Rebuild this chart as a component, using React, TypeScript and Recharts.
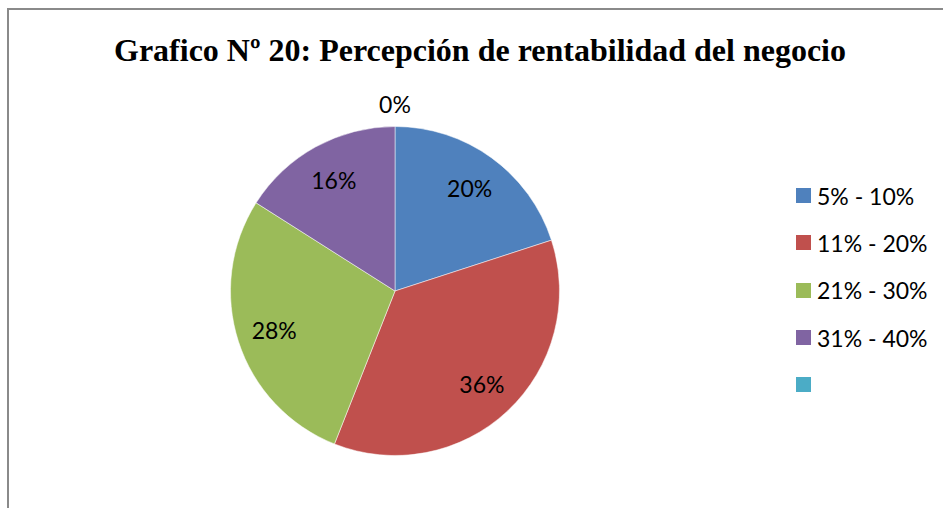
import React from "react";
import { PieChart, Pie, Cell, Legend } from "recharts";

const categories = ["5% - 10%", "11% - 20%", "21% - 30%", "31% - 40%", ""];
const values = [20, 36, 28, 16, 0];
const colors = ["#4F81BD", "#C0504D", "#9BBB59", "#8064A2", "#4BACC6"];

const data = categories.map((name, i) => ({ name, value: values[i] }));

const LABEL_FONT = "Lato, 'Open Sans', sans-serif";
const RAD = Math.PI / 180;

const renderLabel = (props: any) => {
  const { cx, cy, midAngle, value, percent } = props;
  const r = value > 0 ? 127 : 187;
  const x = cx + r * Math.cos(-midAngle * RAD);
  const y = cy + r * Math.sin(-midAngle * RAD);
  return (
    <text
      x={x}
      y={y}
      textAnchor="middle"
      dominantBaseline="central"
      fontFamily={LABEL_FONT}
      fontSize={23}
      fill="#000"
    >
      {`${Math.round((percent || 0) * 100)}%`}
    </text>
  );
};

const renderLegend = () => (
  <div style={{ fontFamily: LABEL_FONT, fontSize: 23 }}>
    {data.map((d, i) => (
      <div
        key={i}
        style={{ height: 47.3, display: "flex", alignItems: "center" }}
      >
        <span
          style={{
            width: 15,
            height: 15,
            background: colors[i],
            display: "inline-block",
            marginRight: 6,
          }}
        />
        <span style={{ color: "#000", whiteSpace: "nowrap" }}>{d.name}</span>
      </div>
    ))}
  </div>
);

export default function App() {
  return (
    <div
      style={{
        position: "absolute",
        left: 0,
        top: 0,
        width: 943,
        height: 508,
        overflow: "hidden",
        background: "#fff",
      }}
    >
      <div
        style={{
          position: "absolute",
          left: 7,
          top: 8,
          width: 1100,
          height: 800,
          border: "2px solid #8a8a8a",
          boxSizing: "border-box",
        }}
      />
      <div
        style={{
          position: "absolute",
          left: 0,
          top: 31.5,
          width: 960,
          textAlign: "center",
          fontFamily: "'Liberation Serif', 'Times New Roman', serif",
          fontWeight: "bold",
          fontSize: 32,
          color: "#000",
          whiteSpace: "nowrap",
        }}
      >
        Grafico Nº 20: Percepción de rentabilidad del negocio
      </div>
      <div style={{ position: "absolute", left: 0, top: 0 }}>
        <PieChart
          width={943}
          height={508}
          margin={{ top: 0, right: 0, bottom: 0, left: 0 }}
        >
          <Pie
            data={data}
            dataKey="value"
            nameKey="name"
            cx={395}
            cy={291}
            outerRadius={164.5}
            startAngle={90}
            endAngle={-270}
            stroke="#fff"
            strokeWidth={0.5}
            label={renderLabel}
            labelLine={false}
            isAnimationActive={false}
          >
            {data.map((d, i) => (
              <Cell key={i} fill={colors[i]} />
            ))}
          </Pie>
          <Legend
            layout="vertical"
            content={renderLegend}
            wrapperStyle={{ position: "absolute", left: 796, top: 172, width: 147 }}
          />
        </PieChart>
      </div>
    </div>
  );
}
